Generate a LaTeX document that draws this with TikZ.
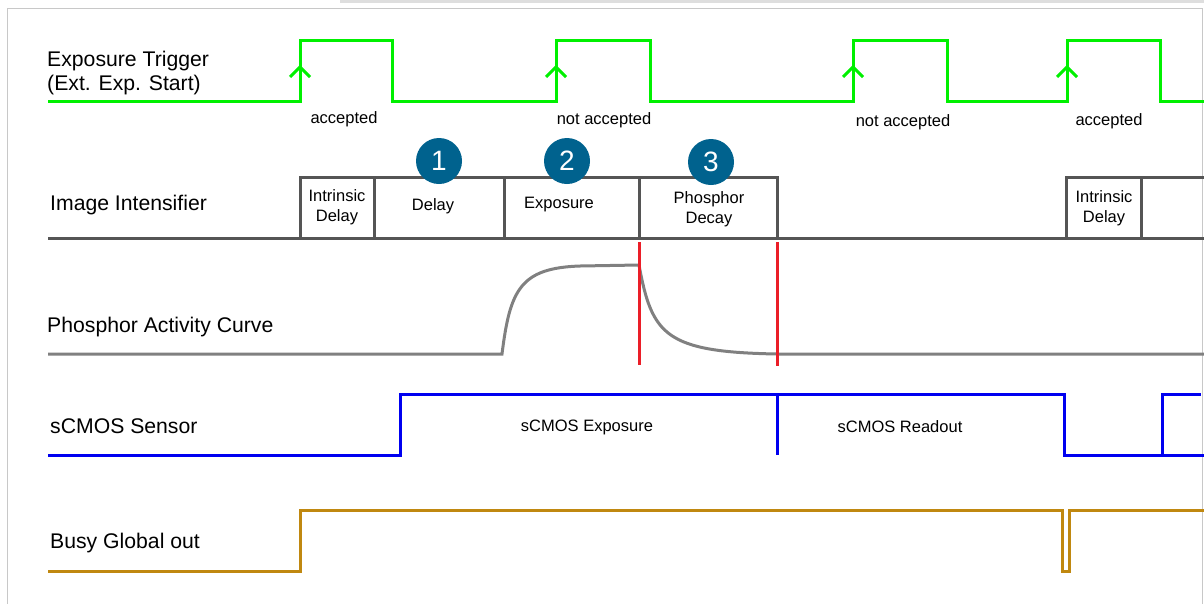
\documentclass[tikz,border=0pt]{standalone}
\usepackage{fontspec}
\setmainfont{Liberation Sans}
\usetikzlibrary{calc, positioning, arrows.meta}
\definecolor{trig}{RGB}{0, 240, 0}
\definecolor{intens}{RGB}{85, 85, 85}
\definecolor{phos}{RGB}{128, 128, 128}
\definecolor{sensor}{RGB}{0, 0, 240}
\definecolor{busy}{RGB}{192, 136, 16}
\definecolor{marker}{RGB}{235, 30, 40}
\definecolor{stepblue}{RGB}{0, 98, 142}
\definecolor{frame}{RGB}{200, 200, 200}

\begin{document}
\begin{tikzpicture}[x=1pt, y=-1pt, line join=miter,
  sig/.style={line width=3pt},
  rowlabel/.style={anchor=west, inner sep=0pt, font=\fontsize{21.2}{24.5}\selectfont, align=left},
  small/.style={inner sep=0pt, font=\fontsize{16.5}{20}\selectfont, align=center},
  stepmark/.style={circle, fill=stepblue, text=white, minimum size=46pt, inner sep=0pt, font=\fontsize{28}{28}\selectfont}]
  \useasboundingbox (0,0) rectangle (1204,603);
  % frame
  \fill[frame!60] (340,0) rectangle (1204,2.5);
  \draw[frame, line width=1pt] (7,610) -- (7,8) -- (1202,8) -- (1202,610);

  % row labels
  \node[rowlabel] (trigLbl) at (47,73) {Exposure Trigger\\(Ext. Exp. Start)};
  \node[rowlabel] (intLbl) at (50,205) {Image Intensifier};
  \node[rowlabel] (phosLbl) at (47,327) {Phosphor Activity Curve};
  \node[rowlabel] (senLbl) at (50,426) {sCMOS Sensor};
  \node[rowlabel] (busyLbl) at (50,543) {Busy Global out};

  % exposure trigger
  \draw[sig, trig] (48,101) -- (300,101) -- (300,40) -- (392,40) -- (392,101)
    -- (556,101) -- (556,40) -- (650,40) -- (650,101)
    -- (853,101) -- (853,40) -- (947,40) -- (947,101)
    -- (1067,101) -- (1067,40) -- (1160,40) -- (1160,101) -- (1204,101);
  \foreach \x in {300, 556, 853, 1067}
    \draw[trig, line width=3pt] (\x-10,77) -- (\x,67) -- (\x+10,77);
  \node[small] (acc1) at (344,119) {accepted};
  \node[small] (nacc1) at (604,120) {not accepted};
  \node[small] (nacc2) at (903,122) {not accepted};
  \node[small] (acc2) at (1109,121) {accepted};

  % image intensifier
  \draw[sig, intens] (48,238) -- (1204,238);
  \draw[sig, intens] (300,238) -- (300,177) -- (777,177) -- (777,238);
  \draw[sig, intens] (1066,238) -- (1066,177) -- (1204,177);
  \foreach \x in {374, 504, 639, 1141}
    \draw[sig, intens] (\x,177) -- (\x,238);
  \node[small] (intr1) at (337,207) {Intrinsic\\Delay};
  \node[small] (delay) at (433,206) {Delay};
  \node[small] (expo) at (559,205) {Exposure};
  \node[small] (decay) at (709,209) {Phosphor\\Decay};
  \node[small] (intr2) at (1104,208) {Intrinsic\\Delay};
  \node[stepmark] (s1) at (439,161) {1};
  \node[stepmark] (s2) at (567,161) {2};
  \node[stepmark] (s3) at (711,162) {3};

  % phosphor activity
  \draw[sig, phos] (48,354) -- (502,354)
    .. controls (510,290) and (520,268) .. (580,266) -- (639,265)
    .. controls (652,335) and (665,352) .. (777,354) -- (1204,354);
  \draw[marker, line width=3pt] (639,242) -- (639,365);
  \draw[marker, line width=3pt] (777,242) -- (777,366);

  % sCMOS sensor
  \draw[sig, sensor] (48,455) -- (400,455) -- (400,394) -- (1064,394) -- (1064,455)
    -- (1162,455) -- (1162,394) -- (1201,394);
  \draw[sig, sensor] (1162,455) -- (1204,455);
  \draw[sig, sensor] (777,394) -- (777,455);
  \node[small] (sexp) at (587,427) {sCMOS Exposure};
  \node[small] (sread) at (900,427) {sCMOS Readout};

  % busy global out
  \draw[sig, busy] (48,571) -- (300,571) -- (300,510) -- (1062,510) -- (1062,571)
    -- (1069,571) -- (1069,510) -- (1204,510);
\end{tikzpicture}
\end{document}
